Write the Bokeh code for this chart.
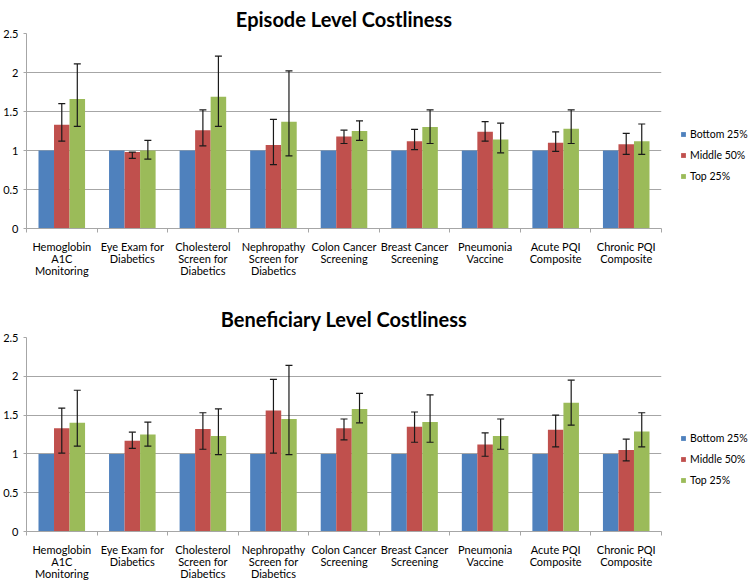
from bokeh.plotting import figure
from bokeh.models import (ColumnDataSource, Whisker, TeeHead, FixedTicker, Legend,
                          LegendItem, Range1d)
from bokeh.layouts import column
from bokeh.embed import file_html
from bokeh.resources import INLINE

categories = [
    "Hemoglobin\nA1C\nMonitoring",
    "Eye Exam for\nDiabetics",
    "Cholesterol\nScreen for\nDiabetics",
    "Nephropathy\nScreen for\nDiabetics",
    "Colon Cancer\nScreening",
    "Breast Cancer\nScreening",
    "Pneumonia\nVaccine",
    "Acute PQI\nComposite",
    "Chronic PQI\nComposite",
]
series = ["Bottom 25%", "Middle 50%", "Top 25%"]
colors = ["#4F81BD", "#C0504D", "#9BBB59"]
y_ticks = [0, 0.5, 1, 1.5, 2, 2.5]
y_tick_labels = ["0", "0.5", "1", "1.5", "2", "2.5"]

# Episode level costliness
ep_bottom = [1.0, 1.0, 1.0, 1.0, 1.0, 1.0, 1.0, 1.0, 1.0]
ep_middle = [1.33, 0.98, 1.26, 1.07, 1.18, 1.12, 1.24, 1.10, 1.08]
ep_middle_lo = [1.12, 0.90, 1.06, 0.82, 1.09, 1.01, 1.12, 0.99, 0.95]
ep_middle_hi = [1.60, 0.98, 1.52, 1.40, 1.26, 1.27, 1.37, 1.24, 1.22]
ep_top = [1.66, 1.00, 1.69, 1.37, 1.25, 1.30, 1.14, 1.28, 1.12]
ep_top_lo = [1.31, 0.89, 1.31, 0.93, 1.13, 1.09, 0.97, 1.09, 0.95]
ep_top_hi = [2.11, 1.13, 2.21, 2.02, 1.38, 1.52, 1.35, 1.52, 1.34]

# Beneficiary level costliness
bf_bottom = [1.0, 1.0, 1.0, 1.0, 1.0, 1.0, 1.0, 1.0, 1.0]
bf_middle = [1.33, 1.17, 1.32, 1.56, 1.33, 1.35, 1.12, 1.31, 1.05]
bf_middle_lo = [1.01, 1.07, 1.06, 1.01, 1.18, 1.15, 0.97, 1.09, 0.91]
bf_middle_hi = [1.59, 1.28, 1.53, 1.96, 1.45, 1.54, 1.27, 1.50, 1.19]
bf_top = [1.40, 1.25, 1.23, 1.45, 1.58, 1.41, 1.23, 1.66, 1.29]
bf_top_lo = [1.10, 1.10, 0.99, 0.99, 1.40, 1.15, 1.06, 1.37, 1.09]
bf_top_hi = [1.82, 1.41, 1.58, 2.14, 1.78, 1.76, 1.45, 1.95, 1.53]

FONT = "Lato"
GRID = "#a6a6a6"
BAR_W = 0.22
OFFSETS = [-0.22, 0.0, 0.22]


def make_chart(title, bottom, middle, mlo, mhi, top, tlo, thi,
               top_border, bottom_border, frame_h, legend_y, title_standoff):
    p = figure(output_backend="svg", toolbar_location=None,
               frame_width=635, frame_height=frame_h,
               x_range=Range1d(0, len(categories)), y_range=Range1d(0, 2.5),
               min_border_left=25, min_border_right=87,
               min_border_top=top_border, min_border_bottom=bottom_border)
    p.title.text = title
    p.title.align = "center"
    p.title.text_font = FONT
    p.title.text_font_style = "bold"
    p.title.text_font_size = "20px"
    p.title.text_color = "#000000"
    p.title.text_line_height = 1.0
    p.title.standoff = title_standoff
    p.outline_line_color = None
    p.background_fill_color = "white"
    p.border_fill_color = "white"

    centers = [i + 0.5 for i in range(len(categories))]
    vals = [bottom, middle, top]
    renderers = []
    for k in range(3):
        src = ColumnDataSource(dict(x=[c + OFFSETS[k] for c in centers], top=vals[k]))
        r = p.vbar(x="x", top="top", width=BAR_W, bottom=0, source=src,
                   fill_color=colors[k], line_color=None)
        renderers.append(r)

    for k, (lo, hi) in ((1, (mlo, mhi)), (2, (tlo, thi))):
        wsrc = ColumnDataSource(dict(x=[c + OFFSETS[k] for c in centers], lo=lo, hi=hi))
        w = Whisker(base="x", lower="lo", upper="hi", source=wsrc,
                    line_color="#1a1a1a", line_width=1.2,
                    upper_head=TeeHead(size=7, line_color="#1a1a1a", line_width=1.2),
                    lower_head=TeeHead(size=7, line_color="#1a1a1a", line_width=1.2))
        w.level = "annotation"
        p.add_layout(w)

    # x axis: labels at category centres, tick marks at category boundaries
    xa = p.xaxis[0]
    xa.ticker = FixedTicker(ticks=centers, minor_ticks=list(range(len(categories) + 1)))
    xa.major_label_overrides = {c: lab for c, lab in zip(centers, categories)}
    xa.major_tick_out = 0
    xa.major_tick_in = 0
    xa.minor_tick_out = 4
    xa.minor_tick_in = 0
    xa.minor_tick_line_color = GRID
    xa.axis_line_color = GRID
    xa.major_label_standoff = 7
    xa.major_label_text_font = FONT
    xa.major_label_text_font_size = "11px"
    xa.major_label_text_line_height = 0.95
    xa.major_label_text_color = "#000000"

    ya = p.yaxis[0]
    ya.ticker = FixedTicker(ticks=y_ticks)
    ya.major_label_overrides = {t: s for t, s in zip(y_ticks, y_tick_labels)}
    ya.major_tick_out = 3
    ya.major_tick_in = 0
    ya.minor_tick_out = 0
    ya.minor_tick_in = 0
    ya.major_tick_line_color = GRID
    ya.axis_line_color = GRID
    ya.major_label_standoff = 5
    ya.major_label_text_font = FONT
    ya.major_label_text_font_size = "11px"
    ya.major_label_text_color = "#000000"

    p.xgrid.visible = False
    p.ygrid.grid_line_color = GRID
    p.ygrid.grid_line_width = 1
    p.ygrid.ticker = FixedTicker(ticks=y_ticks)

    legend = Legend(items=[LegendItem(label=s, renderers=[r]) for s, r in zip(series, renderers)],
                    location=(19, legend_y))
    legend.label_text_font = FONT
    legend.label_text_font_size = "10.5px"
    legend.label_text_color = "#000000"
    legend.glyph_width = 6
    legend.glyph_height = 6
    legend.label_standoff = 4
    legend.spacing = 0
    legend.label_height = 21
    legend.padding = 0
    legend.margin = 0
    legend.border_line_color = None
    legend.background_fill_alpha = 0
    p.add_layout(legend, "right")
    return p


p1 = make_chart("Episode Level Costliness", ep_bottom, ep_middle, ep_middle_lo, ep_middle_hi,
                ep_top, ep_top_lo, ep_top_hi,
                top_border=33, bottom_border=62, frame_h=195, legend_y=42, title_standoff=6)
p2 = make_chart("Beneficiary Level Costliness", bf_bottom, bf_middle, bf_middle_lo, bf_middle_hi,
                bf_top, bf_top_lo, bf_top_hi,
                top_border=47, bottom_border=49, frame_h=194, legend_y=41, title_standoff=14)

p = column(p1, p2, spacing=0)
open("out.html", "w").write(file_html(p, INLINE))
